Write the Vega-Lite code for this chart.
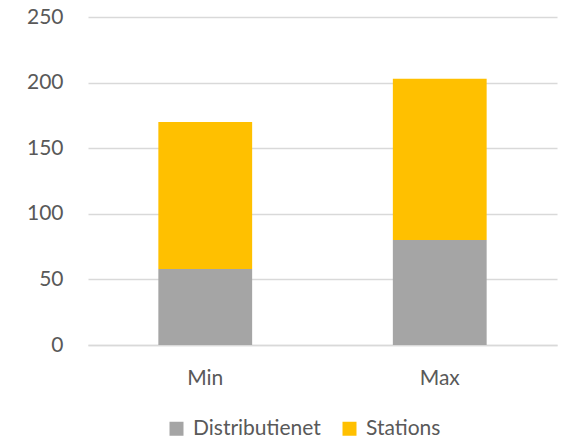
{
  "$schema": "https://vega.github.io/schema/vega-lite/v6.json",
  "width": 469,
  "height": 328,
  "autosize": {"type": "none"},
  "padding": {"left": 88, "top": 17, "right": 5, "bottom": 94},
  "background": "white",
  "data": {
    "values": [
      {"case": "Min", "series": "Distributienet", "value": 58},
      {"case": "Min", "series": "Stations", "value": 112},
      {"case": "Max", "series": "Distributienet", "value": 80},
      {"case": "Max", "series": "Stations", "value": 123}
    ]
  },
  "mark": {"type": "bar"},
  "encoding": {
    "x": {
      "field": "case",
      "type": "nominal",
      "sort": ["Min", "Max"],
      "scale": {"paddingInner": 0.6, "paddingOuter": 0.3},
      "axis": {
        "title": null,
        "labelAngle": 0,
        "labelFont": "Lato",
        "labelFontSize": 21,
        "labelColor": "#595959",
        "labelPadding": 22,
        "ticks": false,
        "domainColor": "#D9D9D9",
        "domainWidth": 1.5
      }
    },
    "y": {
      "field": "value",
      "type": "quantitative",
      "aggregate": "sum",
      "stack": "zero",
      "scale": {"domain": [0, 250]},
      "axis": {
        "title": null,
        "values": [0, 50, 100, 150, 200, 250],
        "labelFont": "Lato",
        "labelFontSize": 21,
        "labelColor": "#595959",
        "labelPadding": 25,
        "ticks": false,
        "domain": false,
        "gridColor": "#D9D9D9",
        "gridWidth": 1.5
      }
    },
    "color": {
      "field": "series",
      "type": "nominal",
      "scale": {"domain": ["Distributienet", "Stations"], "range": ["#A5A5A5", "#FFC000"]},
      "legend": {
        "title": null,
        "orient": "none",
        "legendX": 78,
        "legendY": 401,
        "direction": "horizontal",
        "symbolType": "square",
        "symbolSize": 196,
        "symbolStrokeWidth": 0,
        "labelOffset": 6,
        "labelFont": "Lato",
        "labelFontSize": 21,
        "labelColor": "#595959",
        "columnPadding": 18
      }
    },
    "order": {"field": "series", "sort": "ascending"}
  },
  "config": {"view": {"stroke": null}}
}
